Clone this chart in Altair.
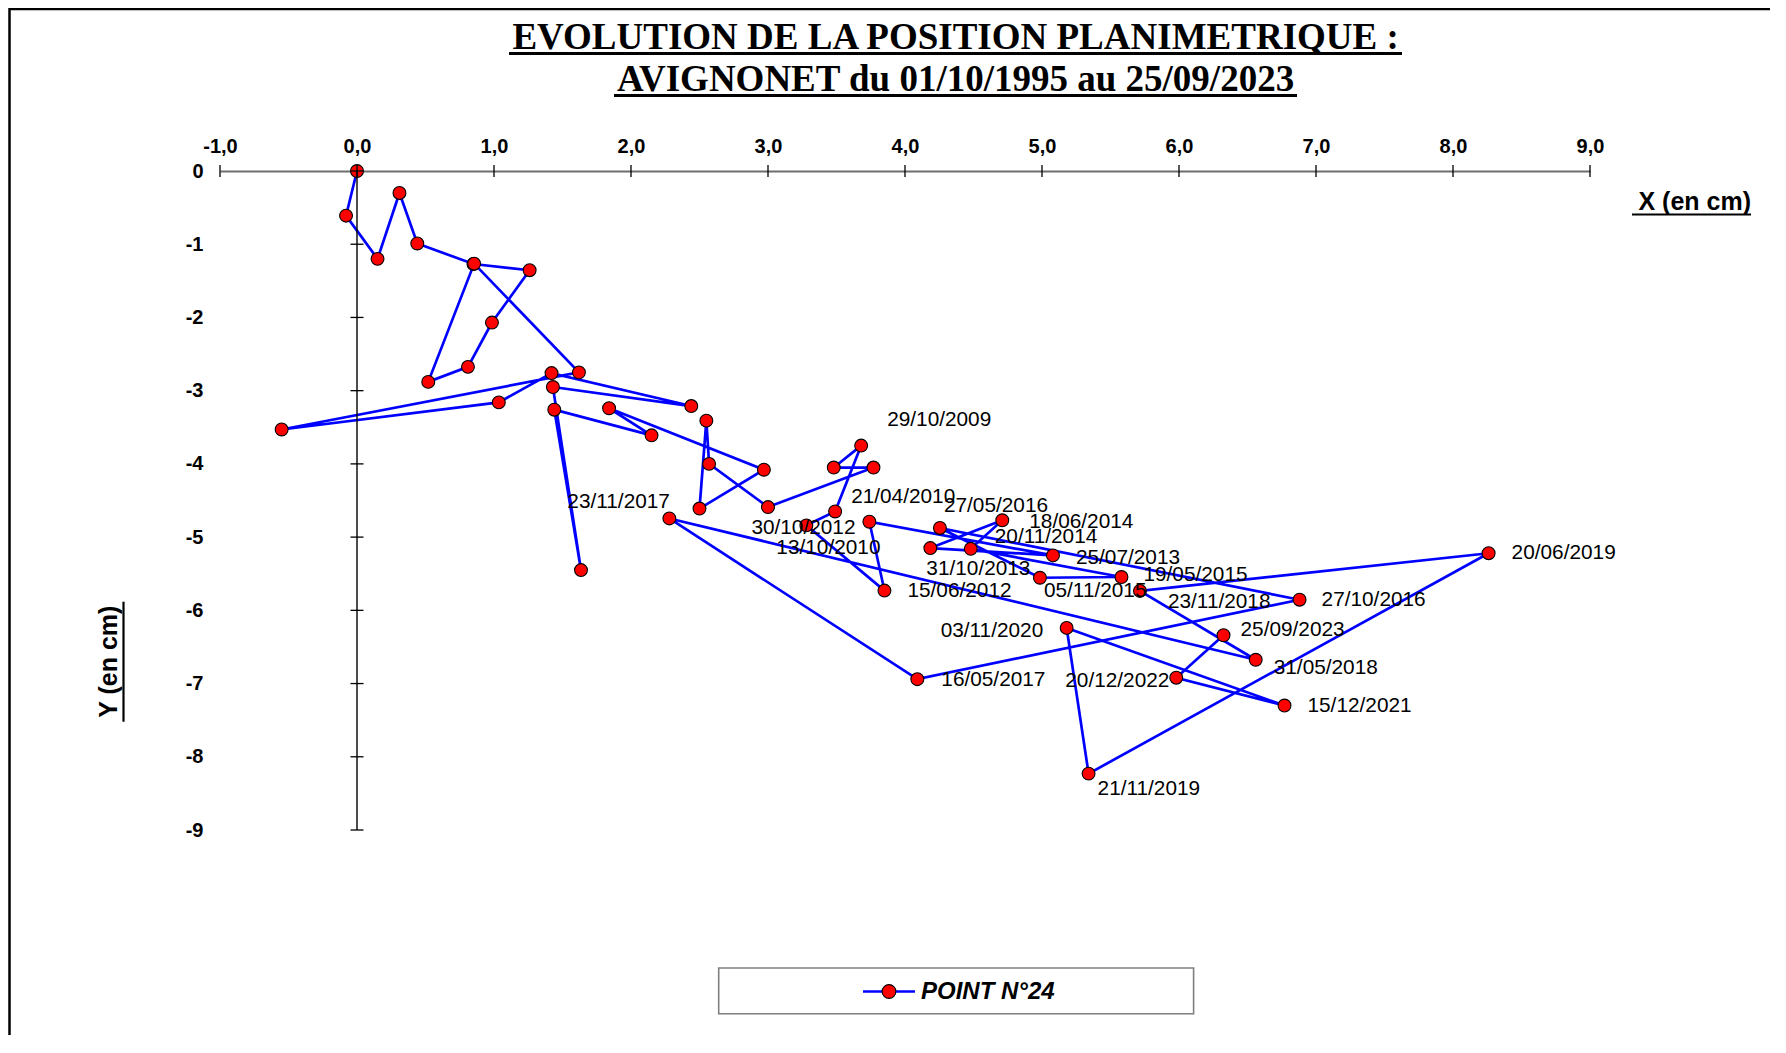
import altair as alt
import pandas as pd

# ---------------- data ----------------
x_cm = [0.00, -0.08, 0.15, 0.31, 0.44, 0.85, 1.26, 0.985, 0.81, 0.52,
        0.855, 1.62, -0.55, 1.035, 1.42, 2.44, 1.43, 1.635, 1.44, 2.15,
        1.84, 2.97, 2.50, 2.55, 2.57, 3.00, 3.77, 3.48,
        3.68, 3.49, 3.28, 3.85, 3.74, 5.08, 4.185, 4.71, 4.48, 5.58,
        4.985, 4.255, 6.88, 4.09, 2.28, 6.56, 5.715, 8.26, 5.34, 5.18,
        6.77, 5.98, 6.325]
y_cm = [0.00, -0.61, -1.20, -0.30, -0.99, -1.27, -1.355, -2.07, -2.675, -2.88,
        -1.265, -2.75, -3.53, -3.16, -2.76, -3.21, -2.95, -5.45, -3.26, -3.61,
        -3.24, -4.08, -4.61, -3.41, -4.00, -4.59, -4.05, -4.05,
        -3.75, -4.65, -4.84, -5.73, -4.79, -5.25, -5.15, -4.77, -5.16, -5.545,
        -5.555, -4.875, -5.855, -6.94, -4.745, -6.675, -5.735, -5.22, -8.23, -6.24,
        -7.30, -6.92, -6.34]
dates = [""] * 28 + [
    "29/10/2009", "21/04/2010", "13/10/2010", "15/06/2012", "30/10/2012",
    "25/07/2013", "31/10/2013", "18/06/2014", "20/11/2014", "19/05/2015",
    "05/11/2015", "27/05/2016", "27/10/2016", "16/05/2017", "23/11/2017",
    "31/05/2018", "23/11/2018", "20/06/2019", "21/11/2019", "03/11/2020",
    "15/12/2021", "20/12/2022", "25/09/2023"]

x_ticks = [-1, 0, 1, 2, 3, 4, 5, 6, 7, 8, 9]
y_ticks = [0, -1, -2, -3, -4, -5, -6, -7, -8, -9]

title_lines = ["EVOLUTION DE LA POSITION PLANIMETRIQUE :",
               "AVIGNONET du 01/10/1995 au 25/09/2023"]
series_name = "POINT N°24"
x_title = "X (en cm)"
y_title = "Y (en cm)"

# ---------------- layout / style ----------------
W, H = 1370, 659
XMIN, XMAX = min(x_ticks), max(x_ticks)
YMIN, YMAX = min(y_ticks), max(y_ticks)
PX_X = W / (XMAX - XMIN)
PX_Y = H / (YMAX - YMIN)

# label placement: offset (px) of label's left edge / vertical centre from its point
label_offsets = {
    "29/10/2009": (26, -26), "21/04/2010": (16, -14), "13/10/2010": (-30, 23),
    "15/06/2012": (23, 0), "30/10/2012": (-118, 6), "25/07/2013": (23, 3),
    "31/10/2013": (-4, 21), "18/06/2014": (27, 2), "20/11/2014": (24, -12),
    "19/05/2015": (22, -2), "05/11/2015": (4, 13), "27/05/2016": (4, -22),
    "27/10/2016": (22, 0), "16/05/2017": (24, 1), "23/11/2017": (-102, -16),
    "31/05/2018": (18, 8), "23/11/2018": (28, 11), "20/06/2019": (23, 0),
    "21/11/2019": (9, 15), "03/11/2020": (-126, 3), "15/12/2021": (23, 0),
    "20/12/2022": (-111, 3), "25/09/2023": (17, -5),
}

SANS = "Liberation Sans"
SERIF = "Liberation Serif"
BLUE = "#0000FF"
RED = "#FF0000"

df = pd.DataFrame({"order": list(range(len(x_cm))), "x": x_cm, "y": y_cm, "date": dates})
lab = df[df["date"] != ""].copy()
lab["lx"] = lab["x"] + lab["date"].map(lambda d: label_offsets[d][0]) / PX_X
lab["ly"] = lab["y"] - lab["date"].map(lambda d: label_offsets[d][1]) / PX_Y

xs = alt.Scale(domain=[XMIN, XMAX], nice=False, zero=False)
ys = alt.Scale(domain=[YMIN, YMAX], nice=False, zero=False)

x_axis = alt.Axis(
    orient="top", values=x_ticks, title=None, grid=False,
    domain=True, domainColor="#6e6e6e", domainWidth=2.2,
    ticks=False, tickSize=0, labelPadding=25, labelBaseline="middle",
    labelExpr="replace(replace(format(datum.value, '.1f'), '.', ','), '\u2212', '-')",
    labelFont=SANS, labelFontSize=20, labelFontWeight="bold", labelColor="black",
    labelFlush=False, labelOverlap=False)
y_axis = alt.Axis(
    orient="left", values=y_ticks, title=None, grid=False,
    domain=False, ticks=False, tickSize=0, labelPadding=17,
    labelExpr="replace(format(datum.value, 'd'), '\u2212', '-')",
    labelFont=SANS, labelFontSize=20, labelFontWeight="bold", labelColor="black",
    labelFlush=False, labelOverlap=False)


def X(field):
    return alt.X(field, type="quantitative", scale=xs, axis=x_axis, title=None)


def Y(field):
    return alt.Y(field, type="quantitative", scale=ys, axis=y_axis, title=None)


dummy = pd.DataFrame({"k": [0]})
tx = pd.DataFrame({"t": x_ticks})
ty = pd.DataFrame({"t": y_ticks})

# frame (top and left edges)
frame_top = alt.Chart(dummy).mark_rule(color="black", strokeWidth=2.5).encode(
    x=alt.value(-211), x2=alt.value(W + 180), y=alt.value(-162))
frame_left = alt.Chart(dummy).mark_rule(color="black", strokeWidth=2.5).encode(
    x=alt.value(-210.5), y=alt.value(-163), y2=alt.value(H + 205))

# y axis line at x = 0 and crossing tick marks
y_line = alt.Chart(dummy).mark_rule(color="black", strokeWidth=1.4).encode(
    x=alt.XDatum(0, scale=xs, axis=x_axis),
    y=alt.YDatum(YMAX, scale=ys, axis=y_axis),
    y2=alt.Y2Datum(YMIN))
x_tick_marks = alt.Chart(tx).mark_tick(orient="vertical", size=12, thickness=1.3, color="black", opacity=1).encode(
    x=X("t"), y=alt.YDatum(0, scale=ys, axis=y_axis))
y_tick_marks = alt.Chart(ty).mark_tick(orient="horizontal", size=13, thickness=1.3, color="black", opacity=1).encode(
    y=Y("t"), x=alt.XDatum(0, scale=xs, axis=x_axis))

line = alt.Chart(df).mark_line(color=BLUE, strokeWidth=2.7).encode(
    x=X("x"), y=Y("y"), order=alt.Order("order:Q"))
points = alt.Chart(df).mark_circle(color=RED, stroke="black", strokeWidth=1.1, size=165, opacity=1).encode(
    x=X("x"), y=Y("y"))
labels = alt.Chart(lab).mark_text(align="left", baseline="middle", font=SANS, fontSize=20.8, color="black").encode(
    x=X("lx"), y=Y("ly"), text="date:N")

# titles
t1 = alt.Chart(dummy).mark_text(font=SERIF, fontSize=37, fontWeight="bold", align="center",
                                baseline="alphabetic", color="black").encode(
    x=alt.value(735.6), y=alt.value(-122), text=alt.value(title_lines[0]))
t2 = alt.Chart(dummy).mark_text(font=SERIF, fontSize=37, fontWeight="bold", align="center",
                                baseline="alphabetic", color="black").encode(
    x=alt.value(735.6), y=alt.value(-80), text=alt.value(title_lines[1]))
u1 = alt.Chart(dummy).mark_rule(color="black", strokeWidth=2.8).encode(
    x=alt.value(289), x2=alt.value(1182), y=alt.value(-117.5))
u2 = alt.Chart(dummy).mark_rule(color="black", strokeWidth=2.8).encode(
    x=alt.value(394), x2=alt.value(1077), y=alt.value(-75.5))

xt = alt.Chart(dummy).mark_text(font=SANS, fontSize=25, fontWeight="bold", align="right",
                                baseline="alphabetic", color="black").encode(
    x=alt.value(1531), y=alt.value(39), text=alt.value(x_title))
xu = alt.Chart(dummy).mark_rule(color="black", strokeWidth=2.2).encode(
    x=alt.value(1412), x2=alt.value(1531), y=alt.value(43.5))
yt = alt.Chart(dummy).mark_text(font=SANS, fontSize=25, fontWeight="bold", align="center",
                                baseline="alphabetic", angle=270, color="black").encode(
    x=alt.value(-103), y=alt.value(490.7), text=alt.value(y_title))
yu = alt.Chart(dummy).mark_rule(color="black", strokeWidth=2.2).encode(
    x=alt.value(-96.5), y=alt.value(430.7), y2=alt.value(550.7))

# legend
leg_box = alt.Chart(dummy).mark_rect(fill="white", stroke="#7f7f7f", strokeWidth=1.6).encode(
    x=alt.value(498.7), x2=alt.value(973.6), y=alt.value(797), y2=alt.value(842.7))
leg_line = alt.Chart(dummy).mark_rule(color=BLUE, strokeWidth=2.7).encode(
    x=alt.value(643), x2=alt.value(695), y=alt.value(820.5))
leg_pt = alt.Chart(dummy).mark_circle(color=RED, stroke="black", strokeWidth=1.1, size=190, opacity=1).encode(
    x=alt.value(669), y=alt.value(820.5))
leg_txt = alt.Chart(dummy).mark_text(font=SANS, fontSize=24, fontWeight="bold", fontStyle="italic",
                                     align="left", baseline="middle", color="black").encode(
    x=alt.value(701), y=alt.value(820.5), text=alt.value(series_name))

chart = alt.layer(
    line, points, y_line, x_tick_marks, y_tick_marks, labels,
    frame_top, frame_left, t1, t2, u1, u2, xt, xu, yt, yu,
    leg_box, leg_line, leg_pt, leg_txt,
).properties(
    width=W, height=H,
    padding={"left": 212, "top": 163, "right": 180, "bottom": 205},
    autosize=alt.AutoSizeParams(type="none"),
    background="white",
).configure_view(stroke=None)

chart.save("out.html", embed_options={"renderer": "svg", "actions": False})
